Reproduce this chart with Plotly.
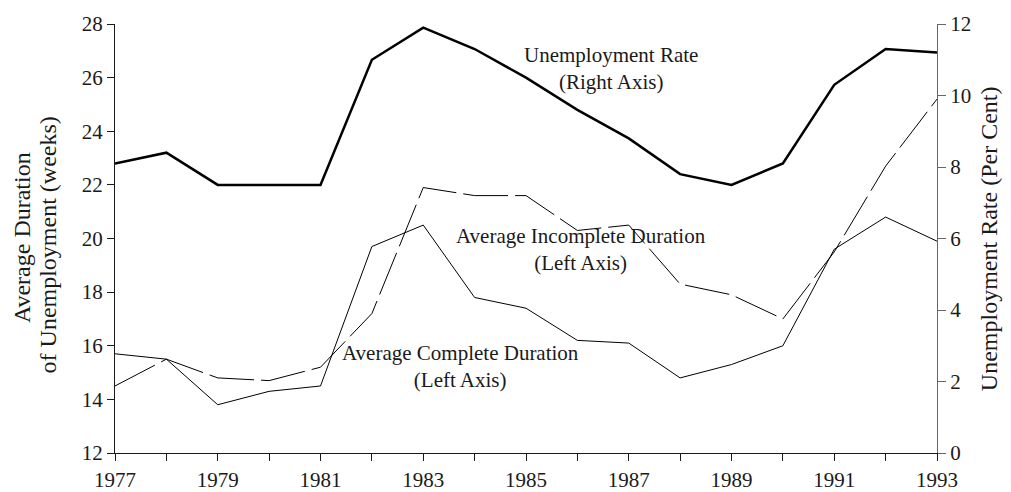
import plotly.graph_objects as go

years = list(range(1977, 1994))
unemployment_rate = [8.1, 8.4, 7.5, 7.5, 7.5, 11.0, 11.9, 11.3, 10.5, 9.6, 8.8, 7.8, 7.5, 8.1, 10.3, 11.3, 11.2]
complete_duration = [15.7, 15.5, 13.8, 14.3, 14.5, 19.7, 20.5, 17.8, 17.4, 16.2, 16.1, 14.8, 15.3, 16.0, 19.6, 20.8, 19.9]
incomplete_duration = [14.5, 15.5, 14.8, 14.7, 15.2, 17.2, 21.9, 21.6, 21.6, 20.3, 20.5, 18.3, 17.9, 17.0, 19.5, 22.7, 25.2]

FONT = "Liberation Serif, Times New Roman, serif"
AX = "#1a1a1a"
AX2 = "#666666"
FS = 21
TXT = "#1a1a1a"

fig = go.Figure()
fig.add_trace(go.Scatter(x=years, y=complete_duration, mode="lines",
                         line=dict(color="black", width=1), yaxis="y", showlegend=False))
fig.add_trace(go.Scatter(x=years, y=incomplete_duration, mode="lines",
                         line=dict(color="black", width=1, dash="45px,7px"), yaxis="y", showlegend=False))
fig.add_trace(go.Scatter(x=years, y=unemployment_rate, mode="lines",
                         line=dict(color="black", width=2.5), yaxis="y2", showlegend=False))

txtfont = dict(family=FONT, size=FS, color=TXT)
titlefont = dict(family=FONT, size=24, color=TXT)

fig.update_layout(
    width=1003, height=484,
    margin=dict(l=107, r=74, t=16, b=39, autoexpand=False),
    paper_bgcolor="white", plot_bgcolor="white",
    font=txtfont,
    xaxis=dict(range=[1977, 1993], tickmode="linear", tick0=1977, dtick=2,
               showline=True, linecolor=AX, linewidth=1, ticks="outside", ticklen=7,
               tickcolor=AX, showgrid=False, zeroline=False, ticklabelstandoff=1,
               minor=dict(ticks="outside", dtick=1, tick0=1977, ticklen=7, tickcolor=AX, showgrid=False)),
    yaxis=dict(range=[12, 28], dtick=2, showline=True, linecolor=AX, linewidth=1,
               ticks="outside", ticklen=7, tickcolor=AX, showgrid=False, zeroline=False),
    yaxis2=dict(range=[0, 12], dtick=2, overlaying="y", side="right", showline=True,
                linecolor=AX2, linewidth=1, ticks="outside", ticklen=8, tickcolor=AX2,
                showgrid=False, zeroline=False),
    annotations=[
        # axis titles
        dict(text="Average Duration", x=-0.1131, y=0.501, xref="paper", yref="paper",
             textangle=-90, showarrow=False, xanchor="center", yanchor="middle", font=titlefont),
        dict(text="of Unemployment (weeks)", x=-0.0821, y=0.485, xref="paper", yref="paper",
             textangle=-90, showarrow=False, xanchor="center", yanchor="middle", font=titlefont),
        dict(text="Unemployment Rate (Per Cent)", x=1.0635, y=0.499, xref="paper", yref="paper",
             textangle=-90, showarrow=False, xanchor="center", yanchor="middle", font=titlefont),
        # series labels
        dict(text="Unemployment Rate<br>(Right Axis)", x=1986.645, y=26.35, xref="x", yref="y",
             showarrow=False, font=txtfont),
        dict(text="Average Incomplete Duration<br>(Left Axis)", x=1986.07, y=19.6, xref="x", yref="y",
             showarrow=False, font=txtfont),
        dict(text="Average Complete Duration<br>(Left Axis)", x=1983.72, y=15.24, xref="x", yref="y",
             showarrow=False, font=txtfont),
    ],
)

fig.write_html("out.html")
